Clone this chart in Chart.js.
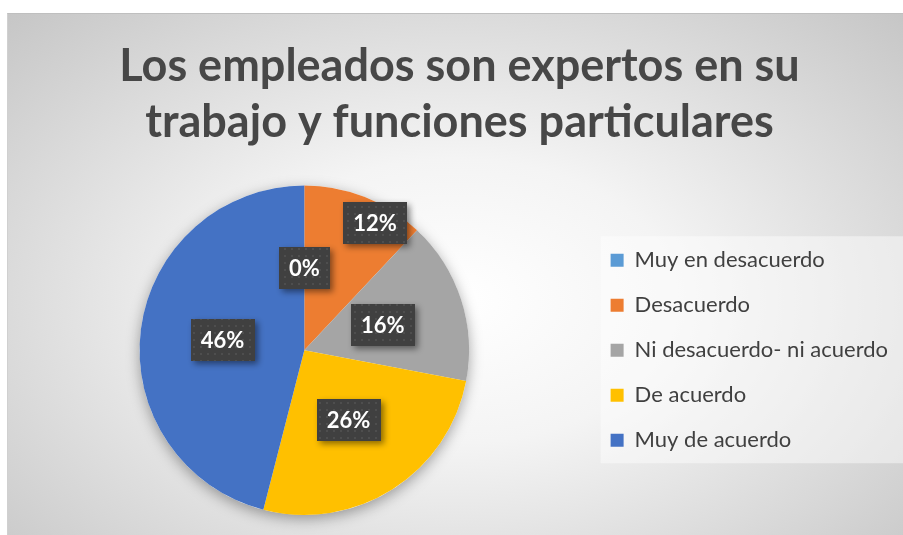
<!DOCTYPE html>
<html>
<head>
<meta charset="utf-8">
<script src="https://cdn.jsdelivr.net/npm/chart.js@4.4.1/dist/chart.umd.min.js"></script>
<style>
  html, body { margin: 0; padding: 0; background: #fff; overflow: hidden; }
  #frame {
    position: absolute; left: 7px; top: 13px; width: 896px; height: 522px;
    border-top: 1px solid #bfbfbf; border-left: 1px solid #d0d0d0;
    background: radial-gradient(ellipse farthest-corner at 50% 55%, #ffffff 0%, #f4f4f4 35%, #c6c6c6 100%);
  }
  canvas { position: absolute; left: 0; top: 0; }
</style>
</head>
<body>
<div id="frame"><canvas id="pieChart" width="896" height="522"></canvas></div>
<script>
const categories = ["Muy en desacuerdo", "Desacuerdo", "Ni desacuerdo- ni acuerdo", "De acuerdo", "Muy de acuerdo"];
const percents = [0, 12, 16, 26, 46];
const sliceColors = ["#5B9BD5", "#ED7D31", "#A5A5A5", "#FFC000", "#4472C4"];
const titleLines = ["Los empleados son expertos en su", "trabajo y funciones particulares"];

Chart.defaults.font.family = "Lato, 'Open Sans', sans-serif";

// dark dotted fill used behind the percentage labels
function makeDotPattern(ctx) {
  const c = document.createElement("canvas");
  c.width = 7; c.height = 7;
  const p = c.getContext("2d");
  p.fillStyle = "#404040";
  p.fillRect(0, 0, 7, 7);
  p.fillStyle = "#4e4e4e";
  p.fillRect(3, 3, 2, 2);
  return ctx.createPattern(c, "repeat");
}

// soft shadow under the whole pie
const pieShadow = {
  id: "pieShadow",
  beforeDatasetsDraw(chart) {
    const arc = chart.getDatasetMeta(0).data[0];
    if (!arc) return;
    const ctx = chart.ctx;
    ctx.save();
    ctx.shadowColor = "rgba(0,0,0,0.35)";
    ctx.shadowBlur = 14;
    ctx.shadowOffsetY = 4;
    ctx.fillStyle = "#ffffff";
    ctx.beginPath();
    ctx.arc(arc.x, arc.y, arc.outerRadius, 0, Math.PI * 2);
    ctx.fill();
    ctx.restore();
  }
};

// lighter panel behind the legend
const legendPanel = {
  id: "legendPanel",
  beforeDraw(chart) {
    const boxes = chart.legend && chart.legend.legendHitBoxes;
    if (!boxes || !boxes.length) return;
    const first = boxes[0], last = boxes[boxes.length - 1];
    const ctx = chart.ctx;
    ctx.save();
    ctx.fillStyle = "rgba(255,255,255,0.45)";
    const top = first.top - 13;
    ctx.fillRect(first.left - 10, top, chart.width - first.left + 10, last.top + last.height + 12 - top);
    ctx.restore();
  }
};

// percentage labels in dark boxes
const sliceLabels = {
  id: "sliceLabels",
  afterDatasetsDraw(chart) {
    const ctx = chart.ctx;
    const meta = chart.getDatasetMeta(0);
    const pattern = makeDotPattern(ctx);
    const radial = [0.5, 0.885, 0.5, 0.5, 0.5];
    const nudge = [0, 0.13, 0, 0, 0];
    meta.data.forEach((arc, i) => {
      const mid = (arc.startAngle + arc.endAngle) / 2 + nudge[i];
      const r = arc.outerRadius * radial[i];
      const x = arc.x + Math.cos(mid) * r;
      const y = arc.y + Math.sin(mid) * r;
      const text = percents[i] + "%";
      ctx.save();
      ctx.font = "bold 22px Lato, sans-serif";
      const w = ctx.measureText(text).width + 20;
      const h = 42;
      ctx.shadowColor = "rgba(0,0,0,0.45)";
      ctx.shadowBlur = 6;
      ctx.shadowOffsetX = 3;
      ctx.shadowOffsetY = 3;
      ctx.fillStyle = pattern;
      ctx.fillRect(Math.round(x - w / 2), Math.round(y - h / 2), Math.round(w), h);
      ctx.shadowColor = "transparent";
      ctx.fillStyle = "#ffffff";
      ctx.textAlign = "center";
      ctx.textBaseline = "middle";
      ctx.fillText(text, x, y + 1);
      ctx.restore();
    });
  }
};

new Chart(document.getElementById("pieChart"), {
  type: "pie",
  data: {
    labels: categories,
    datasets: [{
      data: percents,
      backgroundColor: sliceColors,
      borderWidth: 0
    }]
  },
  options: {
    responsive: false,
    animation: false,
    layout: { padding: { left: 13, right: 6, top: 0, bottom: 21 } },
    plugins: {
      title: {
        display: true,
        text: titleLines,
        color: "#474747",
        font: { size: 45, weight: "bold", lineHeight: 1.25 },
        padding: { top: 24, bottom: 35 }
      },
      legend: {
        position: "right",
        fullSize: false,
        labels: {
          color: "#404040",
          font: { size: 22 },
          boxWidth: 13,
          boxHeight: 13,
          padding: 23
        }
      },
      tooltip: { enabled: false }
    }
  },
  plugins: [pieShadow, legendPanel, sliceLabels]
});
</script>
</body>
</html>
